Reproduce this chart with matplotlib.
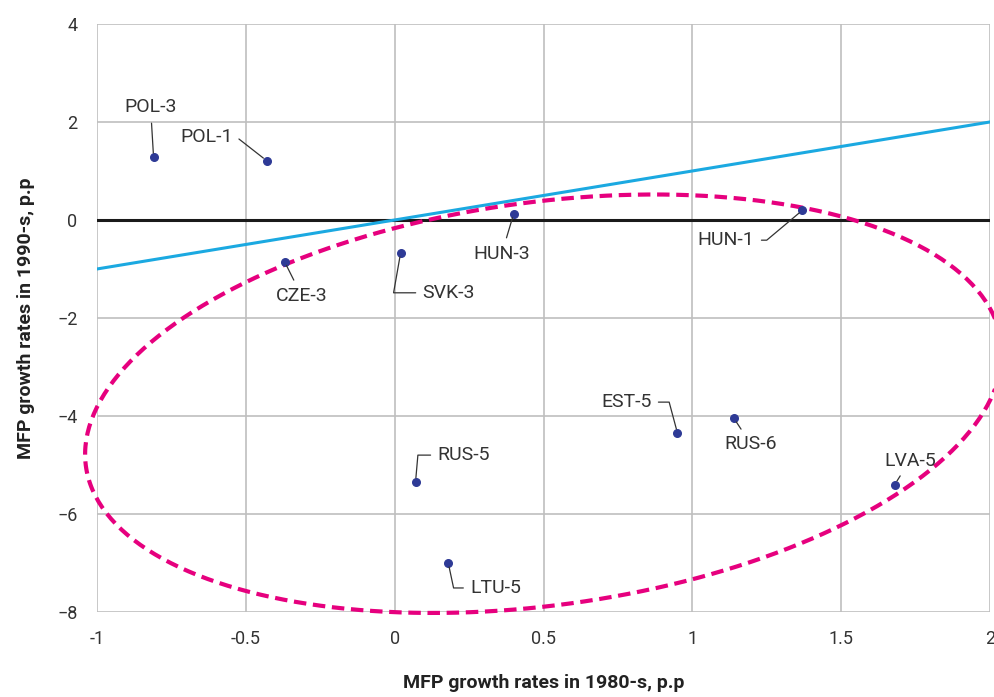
import numpy as np
import matplotlib.pyplot as plt

plt.rcParams['font.family'] = ['Roboto', 'DejaVu Sans']

# MFP growth, 1980-s (x) vs 1990-s (y)
labels = ['POL-3', 'POL-1', 'CZE-3', 'SVK-3', 'HUN-3', 'HUN-1',
          'EST-5', 'RUS-6', 'RUS-5', 'LVA-5', 'LTU-5']
x80 = [-0.81, -0.43, -0.37, 0.02, 0.40, 1.37, 0.95, 1.14, 0.07, 1.68, 0.18]
y90 = [1.28, 1.21, -0.85, -0.67, 0.13, 0.20, -4.35, -4.05, -5.35, -5.40, -7.00]

# label offsets in pixels (dx, dy), alignment, leader style
offsets = [(-3, 50), (-34, 24), (17, -34), (22, -40), (-12, -40), (-48, -30),
           (-26, 31), (17, -26), (22, 27), (15, 24), (22, -25)]
aligns = ['center', 'right', 'center', 'left', 'center', 'right',
          'right', 'center', 'left', 'center', 'left']
conns = ['arc3', 'angle,angleA=0,angleB=-38,rad=0', 'arc3',
         'angle,angleA=0,angleB=80,rad=0', 'arc3',
         'angle,angleA=0,angleB=40,rad=0', 'angle,angleA=0,angleB=-75,rad=0',
         'arc3', 'angle,angleA=0,angleB=85,rad=0', 'arc3',
         'angle,angleA=0,angleB=-78,rad=0']

# dashed ellipse around the transition group
ell_cx, ell_cy = 0.50, -3.75
ell_ax, ell_ay = 1.54, 4.27
ell_phi = np.radians(76)

fig = plt.figure(figsize=(9.94, 6.97), dpi=100)
ax = fig.add_axes([0.0976, 0.122, 0.8984, 0.8436])

ax.set_xlim(-1, 2)
ax.set_ylim(-8, 4)
ax.set_xticks(np.arange(-1, 2.01, 0.5))
ax.set_yticks(np.arange(-8, 4.01, 2))
ax.set_xticklabels(['-1', '-0.5', '0', '0.5', '1', '1.5', '2'])
ax.grid(True, color='#BFBFBF', lw=1.2)
ax.set_axisbelow(True)
for s in ax.spines.values():
    s.set_visible(False)
ax.tick_params(length=0, labelsize=13, colors='#333333')
ax.tick_params(axis='x', pad=13)
ax.tick_params(axis='y', pad=14)

ax.axhline(0, color='#1A1A1A', lw=2.2, zorder=2)
ax.plot([-1, 2], [-1, 2], color='#1BA9E1', lw=2.2, zorder=3)

t = np.linspace(0, 2 * np.pi, 400)
ex = ell_cx + ell_ax * np.cos(t)
ey = ell_cy + ell_ay * np.cos(t - ell_phi)
ax.plot(ex, ey, color='#E6007E', lw=3, ls=(0, (3, 1.6)), clip_on=False, zorder=4)

ax.scatter(x80, y90, s=30, color='#2E3A96', zorder=5)

for i in range(len(labels)):
    ax.annotate(labels[i], (x80[i], y90[i]), xytext=offsets[i],
                textcoords='offset pixels', ha=aligns[i], va='center',
                fontsize=14, color='#333333', zorder=6,
                arrowprops=dict(arrowstyle='-', color='#333333', lw=0.9,
                                connectionstyle=conns[i], shrinkA=3, shrinkB=3))

ax.set_xlabel('MFP growth rates in 1980-s, p.p', fontsize=14, fontweight='bold',
              color='#222222', labelpad=19)
ax.set_ylabel('MFP growth rates in 1990-s, p.p', fontsize=14, fontweight='bold',
              color='#222222', labelpad=16)

fig.savefig('out.png', dpi=100)
